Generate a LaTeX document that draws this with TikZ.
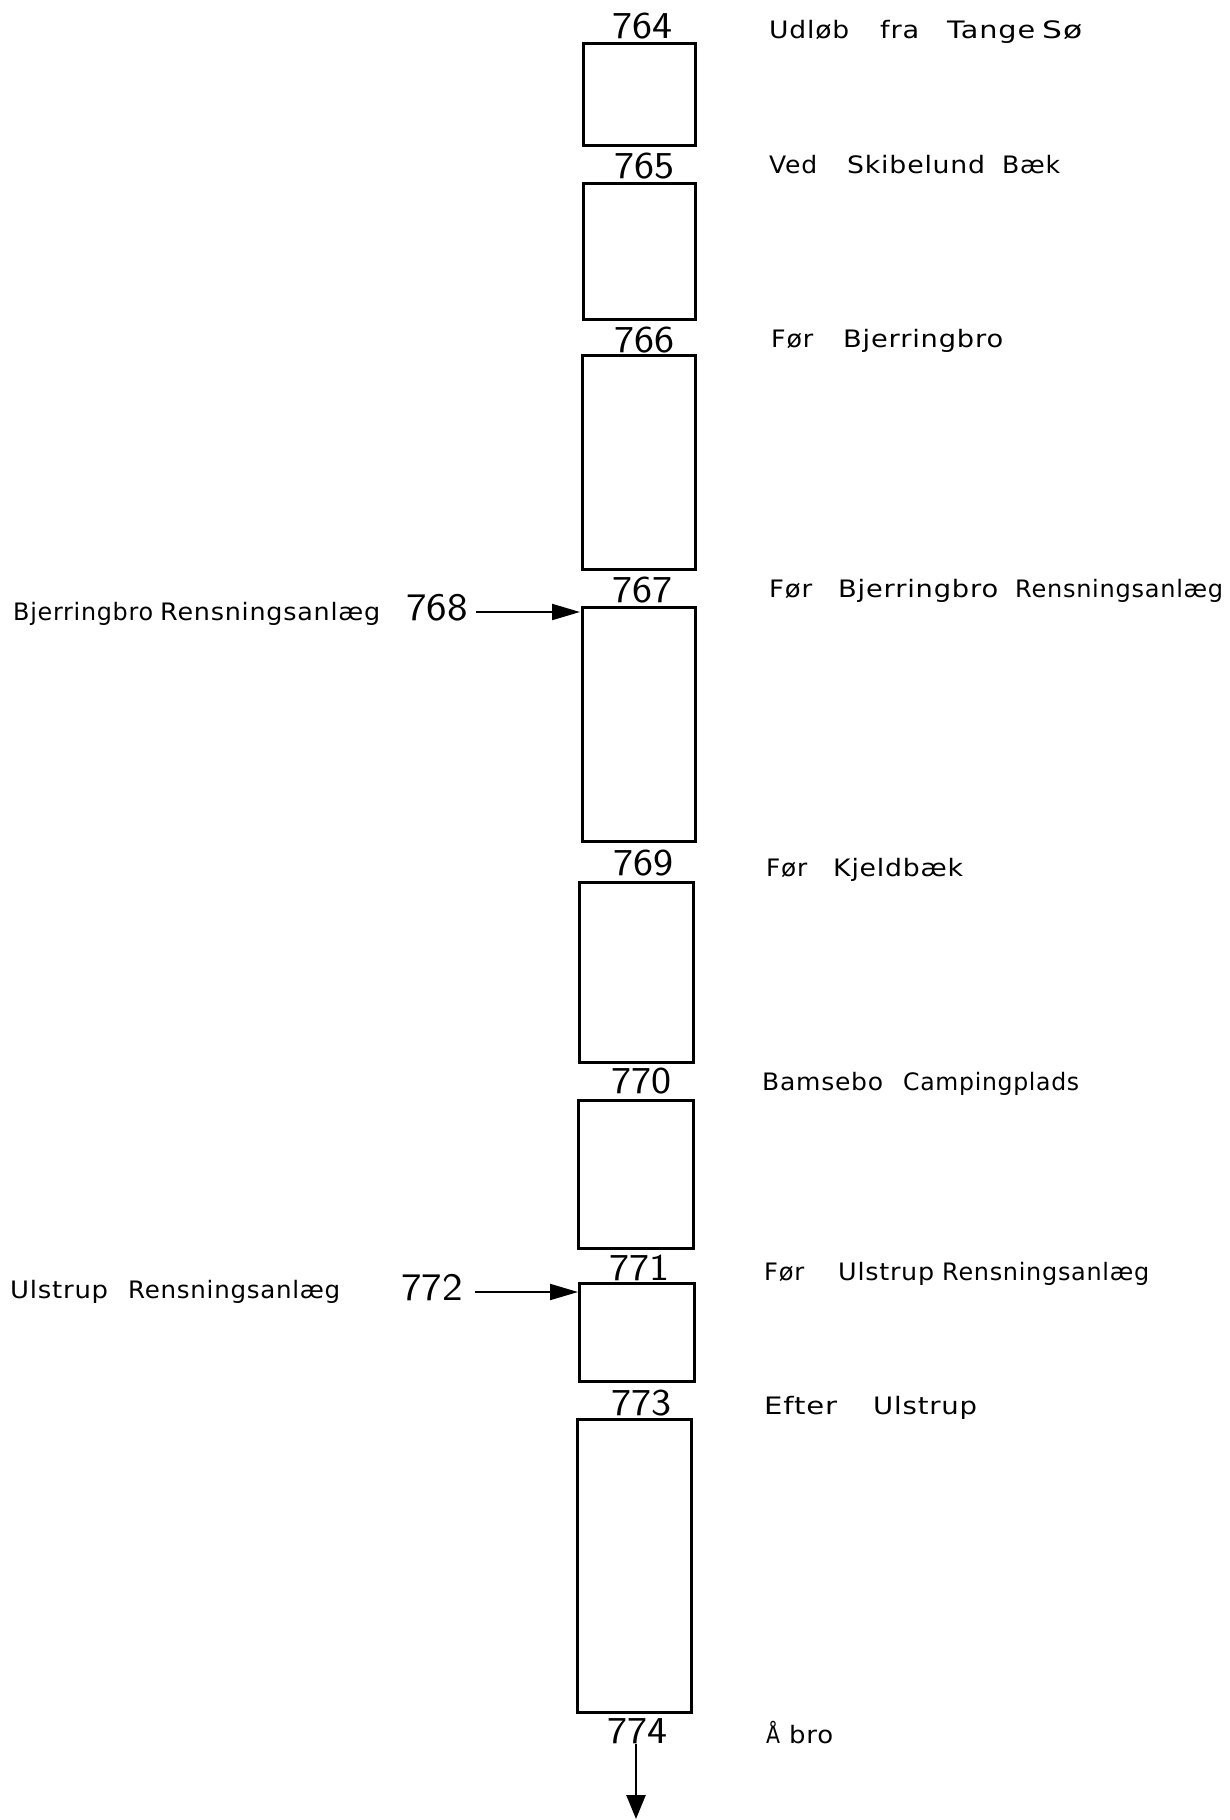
\documentclass[tikz,border=0pt]{standalone}
\usepackage{fontspec}
\usepackage{graphicx}
\usetikzlibrary{arrows.meta}
\newfontfamily\labfont[LetterSpace=3]{DejaVu Sans}
% word placed with a given advance and a given printed width
\newcommand\ww[3]{\makebox[#1pt][l]{\resizebox{#2pt}{\height}{#3}}}
\newcommand\wl[2]{\resizebox{#1pt}{\height}{#2}}
\newcommand\dg[1]{\scalebox{1.12}[1]{#1}}
\begin{document}
\begin{tikzpicture}[x=1pt,y=-1pt,
  box/.style={draw,line width=3pt,inner sep=0pt},
  num/.style={font=\sffamily\fontsize{38}{38}\selectfont,inner sep=0pt,anchor=base},
  lnum/.style={font=\sffamily\fontsize{39}{39}\selectfont,inner sep=0pt,anchor=base},
  lab/.style={font=\labfont\fontsize{24}{24}\selectfont,inner sep=0pt,anchor=base west},
  flow/.style={line width=2pt,-{Triangle[length=28pt,width=16pt]}},
  outflow/.style={line width=2.6pt,-{Triangle[length=24pt,width=19pt]}}]
\useasboundingbox (0,0) rectangle (1230,1820);
% boxes
\node[box,minimum width=112pt,minimum height=102pt] (b1) at (639,94) {};
\node[box,minimum width=112pt,minimum height=136pt] (b2) at (639,251) {};
\node[box,minimum width=113pt,minimum height=214pt] (b3) at (638.5,462) {};
\node[box,minimum width=113pt,minimum height=234pt] (b4) at (638.5,724) {};
\node[box,minimum width=114pt,minimum height=180pt] (b5) at (636,972) {};
\node[box,minimum width=115pt,minimum height=148pt] (b6) at (635.5,1174) {};
\node[box,minimum width=115pt,minimum height=98pt] (b7) at (636.5,1332) {};
\node[box,minimum width=114pt,minimum height=293pt] (b8) at (634,1565.5) {};
% station numbers
\node[num] (n764) at (642,38) {\dg{764}};
\node[num] (n765) at (644,178) {\dg{765}};
\node[num] (n766) at (644,352) {\dg{766}};
\node[num] (n767) at (642,602) {\dg{767}};
\node[num] (n769) at (643,875) {\dg{769}};
\node[num] (n770) at (641,1093) {\dg{770}};
\node[num] (n771) at (639,1280) {\dg{771}};
\node[num] (n773) at (641,1415) {\dg{773}};
\node[num] (n774) at (637,1743) {\dg{774}};
\node[lnum] (n768) at (437,620) {\dg{768}};
\node[lnum] (n772) at (432,1300) {\dg{772}};
% right labels
\node[lab] (l764) at (769,38) {\ww{111}{80}{Udløb}\ww{67}{39}{fra}\ww{95}{88}{Tange}\wl{40}{Sø}};
\node[lab] (l765) at (769,173) {\ww{78}{48}{Ved}\ww{155}{138}{Skibelund}\wl{58}{Bæk}};
\node[lab] (l766) at (771,347) {\ww{72}{42}{Før}\wl{160}{Bjerringbro}};
\node[lab] (l767) at (769,597) {\ww{69}{43}{Før}\ww{177}{160}{Bjerringbro}\wl{208}{Rensningsanlæg}};
\node[lab] (l769) at (766,876) {\ww{67}{41}{Før}\wl{130}{Kjeldbæk}};
\node[lab] (l770) at (762,1090) {\ww{141}{121}{Bamsebo}\wl{176}{Campingplads}};
\node[lab] (l771) at (764,1280) {\ww{74}{40}{Før}\ww{104}{96}{Ulstrup}\wl{207}{Rensningsanlæg}};
\node[lab] (l773) at (764,1414) {\ww{109}{73}{Efter}\wl{104}{Ulstrup}};
\node[lab] (l774) at (766,1743) {\ww{23}{14}{Å}\wl{44}{bro}};
% left labels
\node[lab] (l768) at (13,620) {\ww{147}{140}{Bjerringbro}\wl{220}{Rensningsanlæg}};
\node[lab] (l772) at (10,1298) {\ww{118}{98}{Ulstrup}\wl{212}{Rensningsanlæg}};
% inflows and outflow
\coordinate (t768) at (580,612);
\coordinate (t772) at (578,1292);
\coordinate (out) at (636,1819);
\draw[flow] ([xshift=8pt]n768.east |- t768) -- (t768);
\draw[flow] ([xshift=12pt]n772.east |- t772) -- (t772);
\draw[outflow] (n774.south -| out) -- (out);
\end{tikzpicture}
\end{document}
